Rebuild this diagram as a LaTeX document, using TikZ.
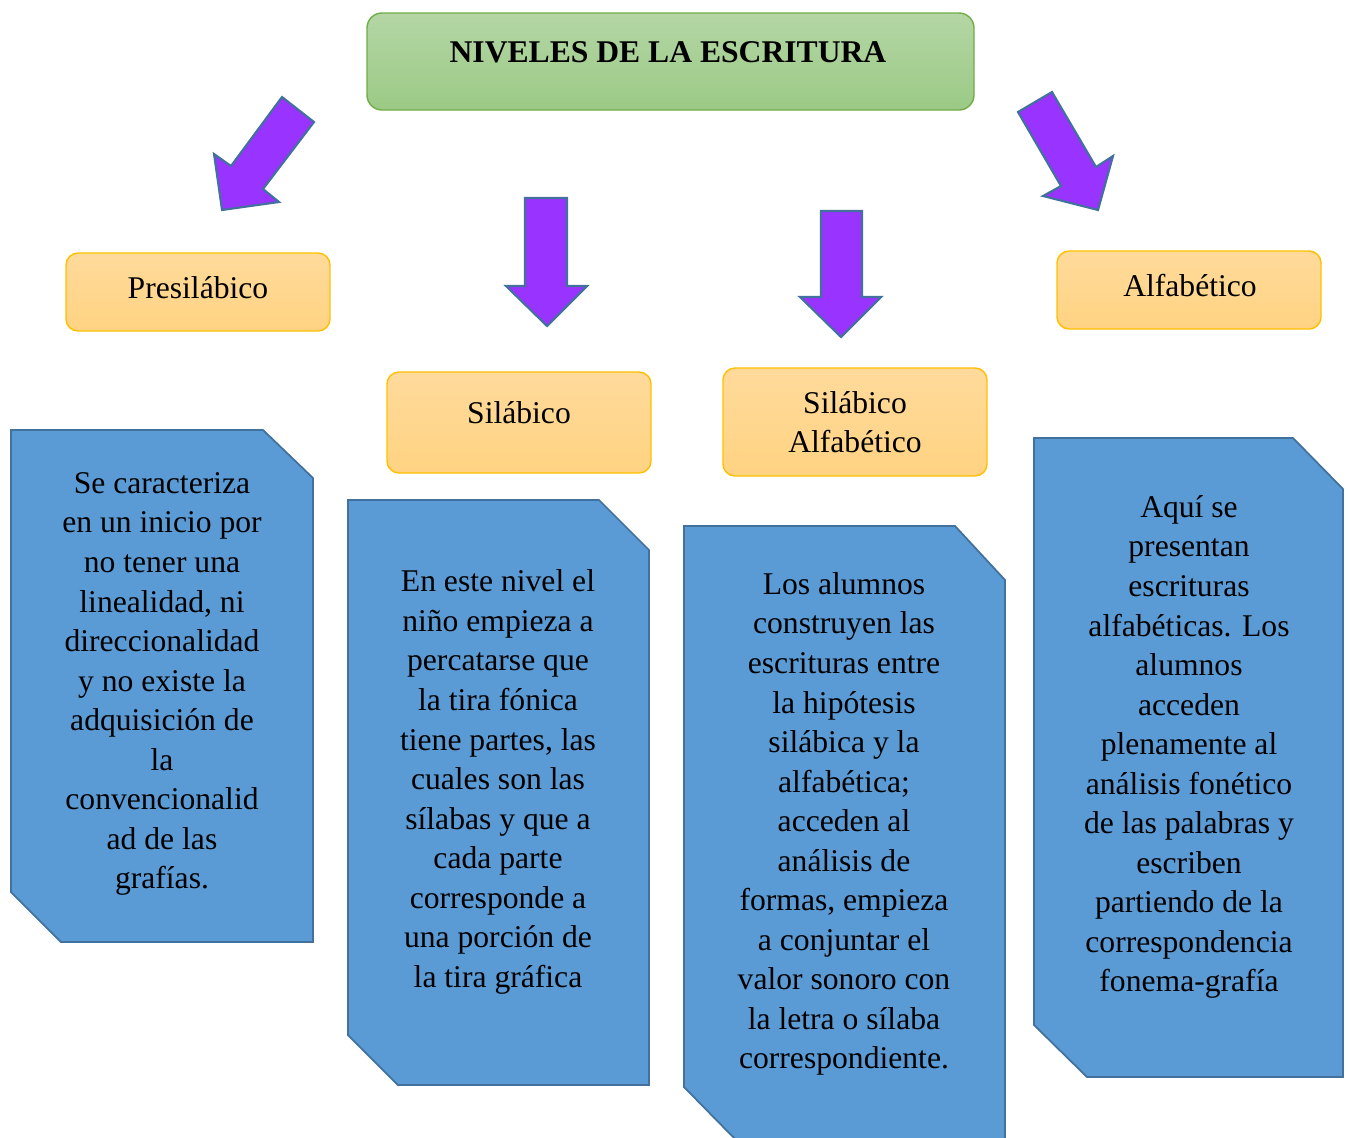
\documentclass[tikz,border=0pt]{standalone}
\usepackage{fontspec}
\setmainfont{Liberation Serif}
\usepackage{xcolor}
\usepackage{tikz}
\usetikzlibrary{
	calc,
	positioning
}
\definecolor{Morado}{RGB}{153,51,255}
\definecolor{Borde}{RGB}{65,113,156}
\definecolor{Azul}{RGB}{91,155,213}
\definecolor{Ambar}{RGB}{255,192,0}
\definecolor{AmbarClaro}{RGB}{255,218,155}
\definecolor{AmbarOscuro}{RGB}{255,211,130}
\definecolor{Verde}{RGB}{112,173,71}
\definecolor{VerdeClaro}{RGB}{180,214,165}
\definecolor{VerdeOscuro}{RGB}{155,202,133}

\tikzset{
	flecha/.style={fill=Morado,draw=Borde,line width=1.2pt,line join=miter},
	nivel/.style={draw=Ambar,line width=0.8pt,rounded corners=0.24cm,top color=AmbarClaro,bottom color=AmbarOscuro},
	nota/.style={fill=Azul,draw=Borde,line width=1pt,line join=miter},
	texto/.style={align=center,inner sep=0pt,font=\fontsize{18}{22.5}\selectfont}
}

\begin{document}
\begin{tikzpicture}[x=0.02cm,y=-0.02cm]
		\useasboundingbox (0,0) rectangle (1352,1137);
		
		% titulo
		\draw[draw=Verde,line width=0.8pt,rounded corners=0.3cm,top color=VerdeClaro,bottom color=VerdeOscuro] (367,13) rectangle (974,110);
		\node[texto,font=\bfseries\fontsize{18}{22.5}\selectfont] (titulo) at (668,52) {NIVELES DE LA ESCRITURA};
		
		% flechas
		\draw[flecha] (282,97) -- (314,122) -- (263,189) -- (279,202) -- (222,210) -- (214,154) -- (231,166) -- cycle;
		\draw[flecha] (525,198) -- (567,198) -- (567,286) -- (587,286) -- (547,326) -- (506,286) -- (525,286) -- cycle;
		\draw[flecha] (821,211) -- (862,211) -- (862,297) -- (881,297) -- (841,337) -- (800,297) -- (821,297) -- cycle;
		\draw[flecha] (1018,112) -- (1052,92) -- (1096,167) -- (1113,156) -- (1098,210) -- (1043,196) -- (1061,186) -- cycle;
		
		% niveles
		\draw[nivel] (66,253) rectangle (330,331);
		\node[texto] (presilabico) at (198,288) {Presilábico};
		\draw[nivel] (387,372) rectangle (651,473);
		\node[texto] (silabico) at (519,413) {Silábico};
		\draw[nivel] (723,368) rectangle (987,476);
		\node[texto] (silabicoAlf) at (855,422) {Silábico\\Alfabético};
		\draw[nivel] (1057,251) rectangle (1321,329);
		\node[texto] (alfabetico) at (1190,286) {Alfabético};
		
		% descripciones
		\draw[nota] (11,430) -- (263,430) -- (313,478) -- (313,942) -- (61,942) -- (11,892) -- cycle;
		\node[texto] (notaPresilabico) at (162,684) {Se caracteriza\\en un inicio por\\no tener una\\linealidad, ni\\direccionalidad\\y no existe la\\adquisición de\\la\\convencionalid\\ad de las\\grafías.};
		
		\draw[nota] (348,500) -- (599,500) -- (649,550) -- (649,1085) -- (398,1085) -- (348,1035) -- cycle;
		\node[texto] (notaSilabico) at (498,782) {En este nivel el\\niño empieza a\\percatarse que\\la tira fónica\\tiene partes, las\\cuales son las\\sílabas y que a\\cada parte\\corresponde a\\una porción de\\la tira gráfica};
		
		\draw[nota] (684,526) -- (955,526) -- (1005,580) -- (1005,1140) -- (736,1140) -- (684,1087) -- cycle;
		\node[texto] (notaSilabicoAlf) at (844,824) {Los alumnos\\construyen las\\escrituras entre\\la hipótesis\\silábica y la\\alfabética;\\acceden al\\análisis de\\formas, empieza\\a conjuntar el\\valor sonoro con\\la letra o sílaba\\correspondiente.};
		
		\draw[nota] (1034,438) -- (1293,438) -- (1343,489) -- (1343,1077) -- (1087,1077) -- (1034,1025) -- cycle;
		\node[texto] (notaAlfabetico) at (1189,747) {Aquí se\\presentan\\escrituras\\alfabéticas. Los\\alumnos\\acceden\\plenamente al\\análisis fonético\\de las palabras y\\escriben\\partiendo de la\\correspondencia\\fonema-grafía};
	\end{tikzpicture}
\end{document}
